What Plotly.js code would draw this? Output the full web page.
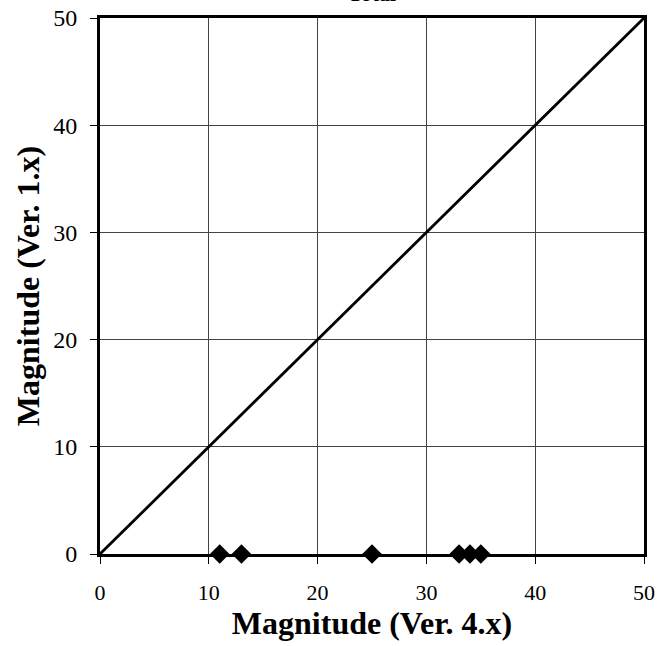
<!DOCTYPE html>
<html><head><meta charset="utf-8">
<script src="https://cdn.plot.ly/plotly-3.0.1.min.js"></script>
<style>html,body{margin:0;padding:0;background:#fff;}#chart{width:670px;height:646px;}</style>
</head><body><div id="chart"></div>
<script>
const titleText = "Total";
const xTitle = "Magnitude (Ver. 4.x)";
const yTitle = "Magnitude (Ver. 1.x)";
const tickVals = [0, 10, 20, 30, 40, 50];
const pointsX = [11, 13, 25, 33, 34, 35];
const pointsY = [0, 0, 0, 0, 0, 0];
const refLineX = [0, 50];
const refLineY = [0, 50];

const serif = "Liberation Serif, Times New Roman, serif";
const traces = [
  {x: refLineX, y: refLineY, mode: "lines", line: {color: "#000", width: 2.8}, hoverinfo: "skip", cliponaxis: false},
  {x: pointsX, y: pointsY, mode: "markers", marker: {symbol: "diamond", size: 15, color: "#000"}, cliponaxis: false}
];
const axisCommon = {
  range: [0, 50], tickvals: tickVals, ticks: "outside", ticklen: 7, tickwidth: 1, tickcolor: "#000",
  showgrid: true, gridcolor: "#444", gridwidth: 1, zeroline: false,
  showline: true, linecolor: "#000", linewidth: 3, mirror: true
};
const layout = {
  width: 670, height: 646,
  margin: {l: 100, r: 26, t: 18, b: 92},
  paper_bgcolor: "#fff", plot_bgcolor: "#fff",
  showlegend: false,
  xaxis: Object.assign({}, axisCommon, {
    tickfont: {family: serif, size: 22, color: "#000"},
    ticklabelstandoff: 10,
    title: {text: xTitle, font: {family: serif, size: 32, color: "#000", weight: "bold"}, standoff: 0}
  }),
  yaxis: Object.assign({}, axisCommon, {
    tickfont: {family: serif, size: 24, color: "#000"},
    ticklabelstandoff: 8,
    title: {text: yTitle, font: {family: serif, size: 32, color: "#000", weight: "bold"}, standoff: 5}
  }),
  annotations: [{
    text: "<b>" + titleText + "</b>", xref: "paper", yref: "paper", x: 0.5, y: 1,
    xanchor: "center", yanchor: "bottom", yshift: 10, showarrow: false,
    font: {family: serif, size: 22, color: "#000"}
  }]
};
Plotly.newPlot("chart", traces, layout, {displayModeBar: false, staticPlot: true});
</script></body></html>
